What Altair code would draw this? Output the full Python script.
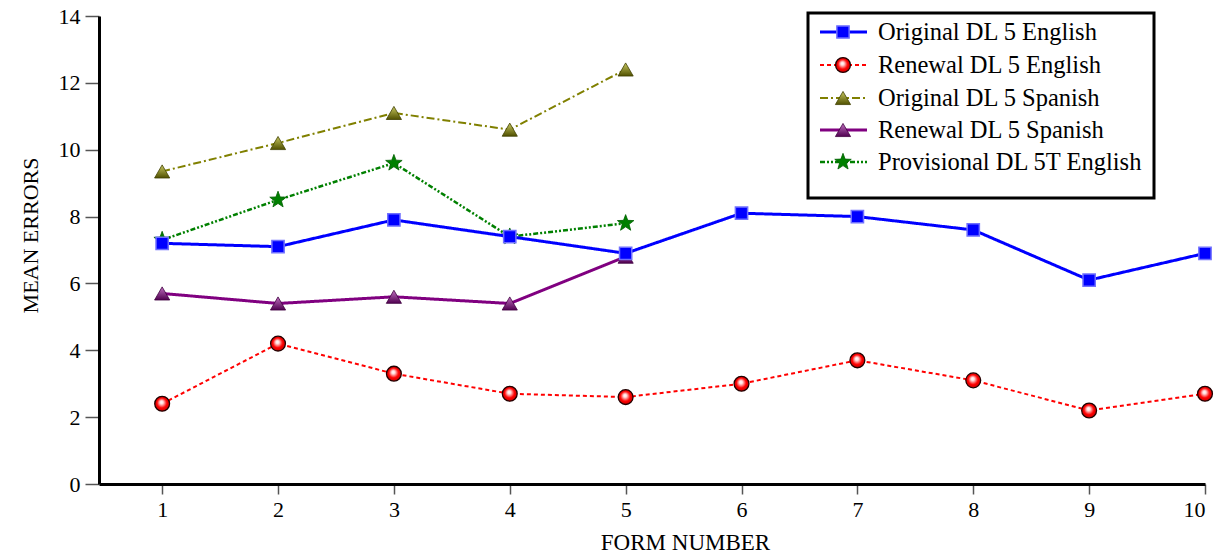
import altair as alt
import pandas as pd

forms = [1, 2, 3, 4, 5, 6, 7, 8, 9, 10]
orig_en = [7.2, 7.1, 7.9, 7.4, 6.9, 8.1, 8.0, 7.6, 6.1, 6.9]
renew_en = [2.4, 4.2, 3.3, 2.7, 2.6, 3.0, 3.7, 3.1, 2.2, 2.7]
orig_es = [9.35, 10.2, 11.1, 10.6, 12.4]
renew_es = [5.7, 5.4, 5.6, 5.4, 6.8]
prov_en = [7.3, 8.5, 9.6, 7.4, 7.8]

series_names = [
    "Original DL 5 English",
    "Renewal DL 5 English",
    "Original DL 5 Spanish",
    "Renewal DL 5 Spanish",
    "Provisional DL 5T English",
]
series_values = [orig_en, renew_en, orig_es, renew_es, prov_en]
y_ticks = [0, 2, 4, 6, 8, 10, 12, 14]

FONT = "Liberation Serif"

STAR = ("M0,-1L0.245,-0.337L0.951,-0.309L0.396,0.129L0.588,0.809L0,0.417"
        "L-0.588,0.809L-0.396,0.129L-0.951,-0.309L-0.245,-0.337Z")

colors = ["#0000ff", "#ff0000", "#808000", "#800080", "#008000"]
dashes = [[1, 0], [4, 3], [8, 3, 2, 3], [1, 0], [5, 2, 2, 2, 2, 2]]
widths = [3, 2, 2, 3, 2.5]
shapes = ["square", "circle", "triangle-up", "triangle-up", STAR]
sizes = [150, 220, 230, 230, 300]


def lin(top, bottom):
    return alt.LinearGradient(
        gradient="linear",
        stops=[alt.GradientStop(color=top, offset=0), alt.GradientStop(color=bottom, offset=1)],
        x1=0, x2=0, y1=0, y2=1,
    )


fills = [
    "#0000ff",
    alt.RadialGradient(
        gradient="radial",
        stops=[
            alt.GradientStop(color="#ffffff", offset=0),
            alt.GradientStop(color="#ffe0e0", offset=0.2),
            alt.GradientStop(color="#ff0000", offset=0.6),
            alt.GradientStop(color="#c00000", offset=1),
        ],
        x1=0.45, y1=0.38, r1=0, x2=0.5, y2=0.5, r2=0.55,
    ),
    lin("#c8c860", "#505000"),
    lin("#c070c0", "#500050"),
    "#008000",
]
strokes = ["#7070ff", "#200000", "#404000", "#400040", "#006000"]
stroke_w = [1.5, 1.3, 0.8, 0.8, 0.8]

rows = []
for name, vals in zip(series_names, series_values):
    for f, v in zip(forms, vals):
        rows.append({"form": f, "errors": v, "series": name})
df = pd.DataFrame(rows)

xscale = alt.Scale(domain=[0.455, 10], nice=False, zero=False)
yscale = alt.Scale(domain=[0, 14], nice=False)

x_enc = alt.X(
    "form:Q",
    scale=xscale,
    axis=alt.Axis(
        values=forms, format="d", title="FORM NUMBER", grid=False, orient="bottom",
        tickSize=10, labelPadding=5, titleX=586, titleY=58, titleFontSize=23,
        titleBaseline="middle", titleAlign="center",
    ),
)
y_enc = alt.Y(
    "errors:Q",
    scale=yscale,
    axis=alt.Axis(
        values=y_ticks, title="MEAN ERRORS", grid=False,
        tickSize=14, labelPadding=5, titleX=-69, titleY=219,
        titleBaseline="middle", titleAlign="center", titleAngle=-90,
    ),
)

order = [2, 4, 3, 1, 0]
layers = []
for i in order:
    base = alt.Chart(df).transform_filter(alt.datum.series == series_names[i])
    layers.append(
        base.mark_line(color=colors[i], strokeWidth=widths[i], strokeDash=dashes[i]).encode(x=x_enc, y=y_enc)
    )
    layers.append(
        base.mark_point(
            shape=shapes[i], size=sizes[i], filled=True, fill=fills[i], opacity=1,
            stroke=strokes[i], strokeWidth=stroke_w[i],
        ).encode(x=x_enc, y=y_enc)
    )

# legend box (layout positions in pixels relative to plot origin)
box_df = pd.DataFrame({"k": [0]})
layers.append(
    alt.Chart(box_df).mark_rect(fill="white", stroke="black", strokeWidth=3).encode(
        x=alt.value(709), x2=alt.value(1055), y=alt.value(-3), y2=alt.value(182)
    )
)
row_y = [16, 49, 82, 114, 146]
for i, name in enumerate(series_names):
    ldf = pd.DataFrame({"label": [name]})
    lc = alt.Chart(ldf)
    layers.append(
        lc.mark_rule(color=colors[i], strokeWidth=widths[i], strokeDash=dashes[i]).encode(
            x=alt.value(721), x2=alt.value(768), y=alt.value(row_y[i])
        )
    )
    layers.append(
        lc.mark_point(
            shape=shapes[i], size=sizes[i], filled=True, fill=fills[i], opacity=1,
            stroke=strokes[i], strokeWidth=stroke_w[i],
        ).encode(x=alt.value(744), y=alt.value(row_y[i]))
    )
    layers.append(
        lc.mark_text(align="left", baseline="middle", font=FONT, fontSize=24.5, color="black").encode(
            x=alt.value(779), y=alt.value(row_y[i] + 1), text="label:N"
        )
    )

chart = (
    alt.layer(*layers)
    .properties(
        width=1106,
        height=468,
        autosize=alt.AutoSizeParams(type="none"),
        padding={"left": 91, "top": 8, "right": 14, "bottom": 72},
        background="white",
    )
    .configure_view(stroke=None)
    .configure_axis(
        labelFont=FONT, labelFontSize=22, labelColor="black",
        titleFont=FONT, titleFontSize=22, titleColor="black", titleFontWeight="normal",
        domainColor="black", domainWidth=3, tickColor="#555555", tickWidth=1.5,
    )
)

chart.save("out.html", embed_options={"renderer": "svg", "actions": False})
